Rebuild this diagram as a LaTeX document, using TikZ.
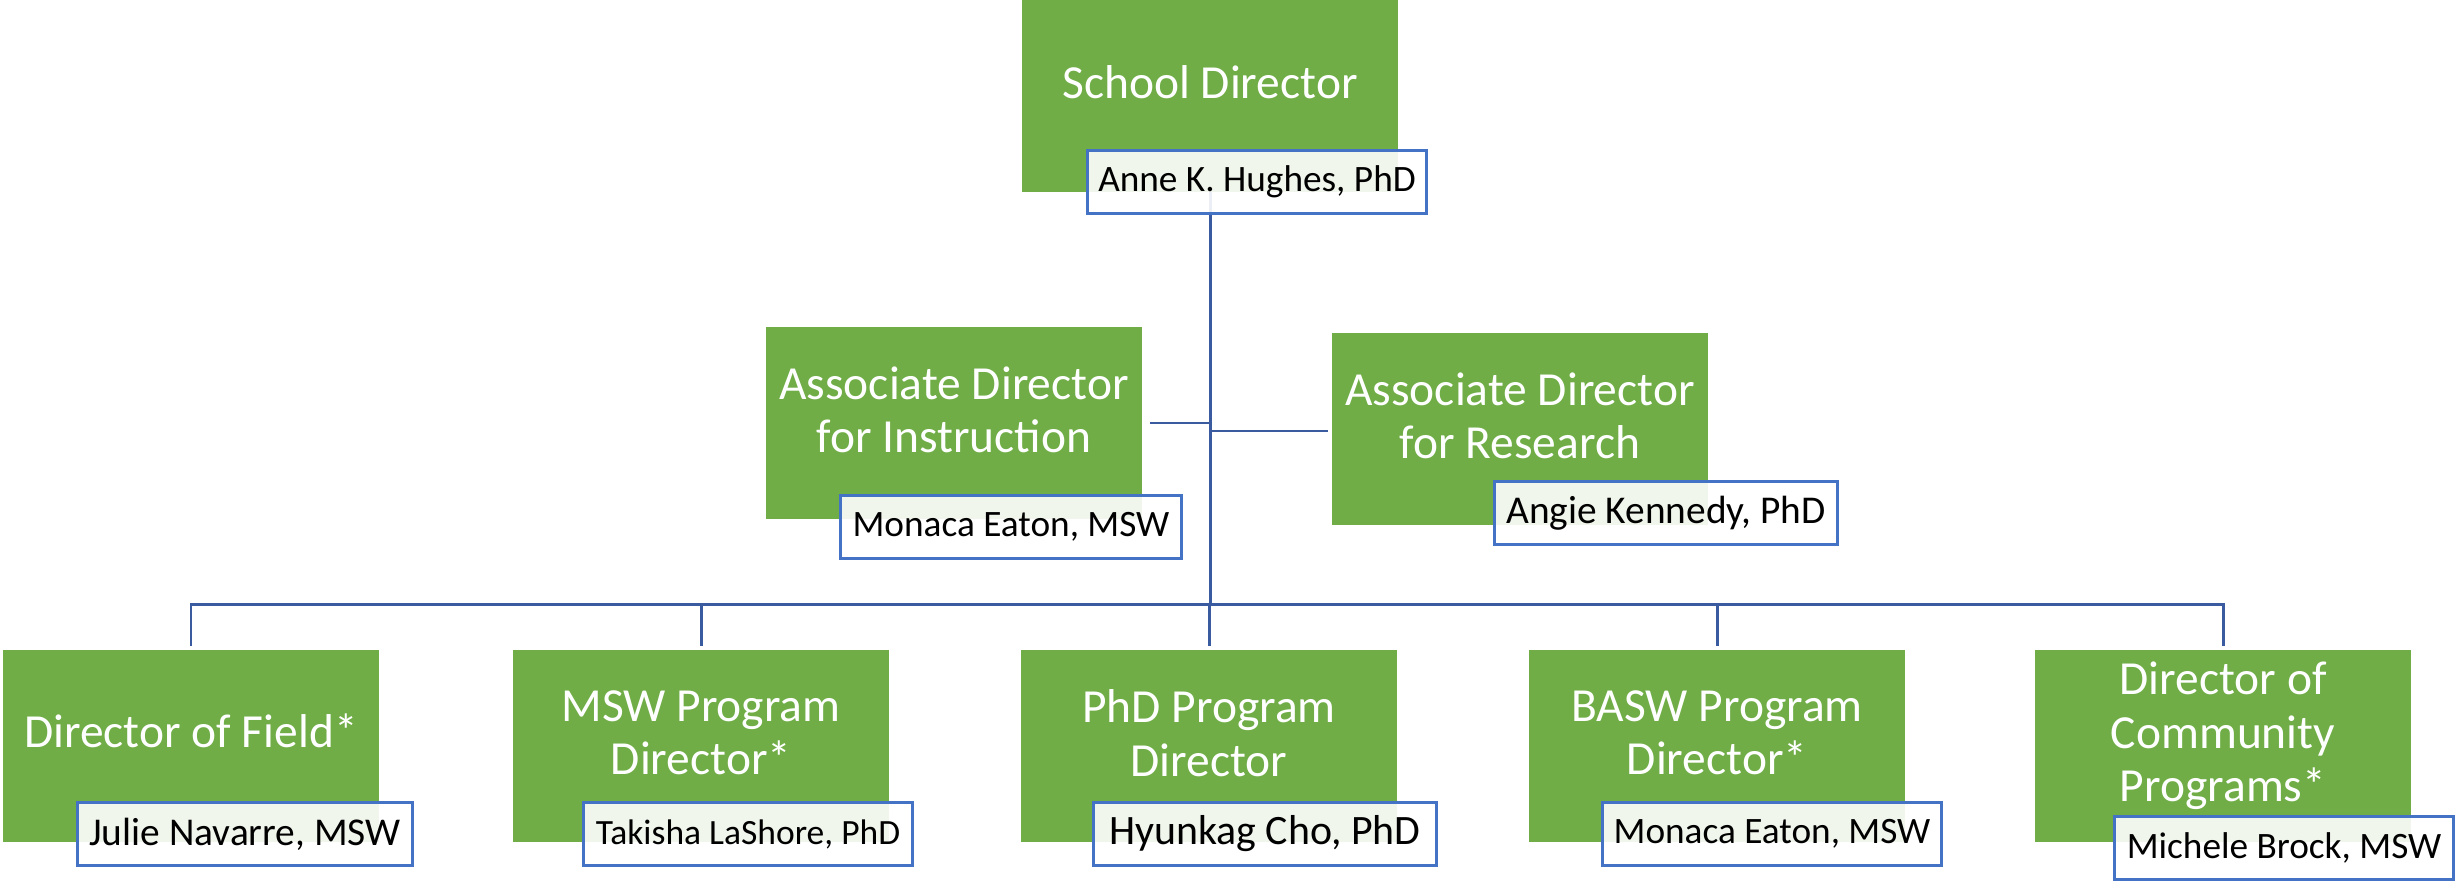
\documentclass[tikz,border=0pt]{standalone}
\usepackage{fontspec}
\setmainfont{Carlito}
\definecolor{boxgreen}{HTML}{70AD47}
\definecolor{nameblue}{HTML}{4472C4}
\definecolor{linkblue}{HTML}{3A5BA0}
\tikzset{
  greenbox/.style={fill=boxgreen, minimum width=3.76cm, minimum height=1.91cm, inner sep=0pt},
  titletext/.style={text=white, align=center, font=\fontsize{13.5}{15.2}\selectfont},
  namebox/.style={draw=nameblue, line width=0.85pt, fill=white, fill opacity=0.9, text opacity=1,
    minimum width=3.4cm, minimum height=0.62cm, inner sep=0pt, font=\fontsize{10.6}{13}\selectfont},
  link/.style={draw=linkblue, line width=0.85pt}
}
\begin{document}
\begin{tikzpicture}[x=0.01cm, y=-0.01cm]
            \useasboundingbox (0,0) rectangle (2455,882);
            % green boxes
            \node[greenbox] (sd) at (1210,96) {};
            \node[greenbox] (instr) at (954,423) {};
            \node[greenbox] (research) at (1520,429) {};
            \foreach \n/\x in {field/191, msw/701, phd/1209, basw/1717, comm/2223}
            \node[greenbox] (\n) at (\x,746) {};

            % connectors
            \coordinate (bus) at (1210,604);
            \draw[link] (sd.south) -- (bus);
            \draw[link, shorten <=2pt] (instr.east) -- (instr.east -| bus);
            \draw[link, shorten >=0.8pt] ([yshift=-0.02cm]research.west -| bus) -- ([yshift=-0.02cm]research.west);
            \draw[link, shorten <=1pt, shorten >=1pt] (field.north) -- (field.north |- bus) -- (comm.north |- bus) -- (comm.north);
            \foreach \n in {msw, phd, basw}
            \draw[link, shorten >=1pt] (\n.north |- bus) -- (\n.north);

            % titles
            \node[titletext] at ([yshift=0.14cm]sd.center) {School Director};
            \node[titletext] at ([yshift=0.13cm]instr.center) {Associate Director\\for Instruction};
            \node[titletext] at ([yshift=0.13cm]research.center) {Associate Director\\for Research};
            \node[titletext] at ([yshift=0.15cm]field.center) {Director of Field*};
            \node[titletext] at ([yshift=0.13cm]msw.center) {MSW Program\\Director*};
            \node[titletext] at ([yshift=0.13cm]phd.center) {PhD Program\\Director};
            \node[titletext] at ([yshift=0.13cm]basw.center) {BASW Program\\Director*};
            \node[titletext] at ([yshift=0.1cm]comm.center) {Director of\\Community\\Programs*};

            % names
            \node[namebox, minimum width=3.38cm] (anne) at (1257,182) {Anne K. Hughes, PhD};
            \node[namebox, minimum width=3.41cm] (eaton1) at (1011,527) {Monaca Eaton, MSW};
            \node[namebox, minimum width=3.42cm, font=\fontsize{11.2}{13}\selectfont] (kennedy) at (1666,513) {Angie Kennedy, PhD};
            \node[namebox, minimum width=3.34cm, font=\fontsize{11.2}{13}\selectfont] (navarre) at (245,834) {Julie Navarre, MSW};
            \node[namebox, minimum width=3.29cm, font=\fontsize{10.1}{13}\selectfont] (lashore) at (748,834) {Takisha LaShore, PhD};
            \node[namebox, minimum width=3.42cm, font=\fontsize{11.9}{14}\selectfont] (cho) at (1265,834) {Hyunkag Cho, PhD};
            \node[namebox, minimum width=3.38cm] (eaton2) at (1772,834) {Monaca Eaton, MSW};
            \node[namebox, minimum width=3.38cm, minimum height=0.63cm] (brock) at (2284,848) {Michele Brock, MSW};
        \end{tikzpicture}
\end{document}
